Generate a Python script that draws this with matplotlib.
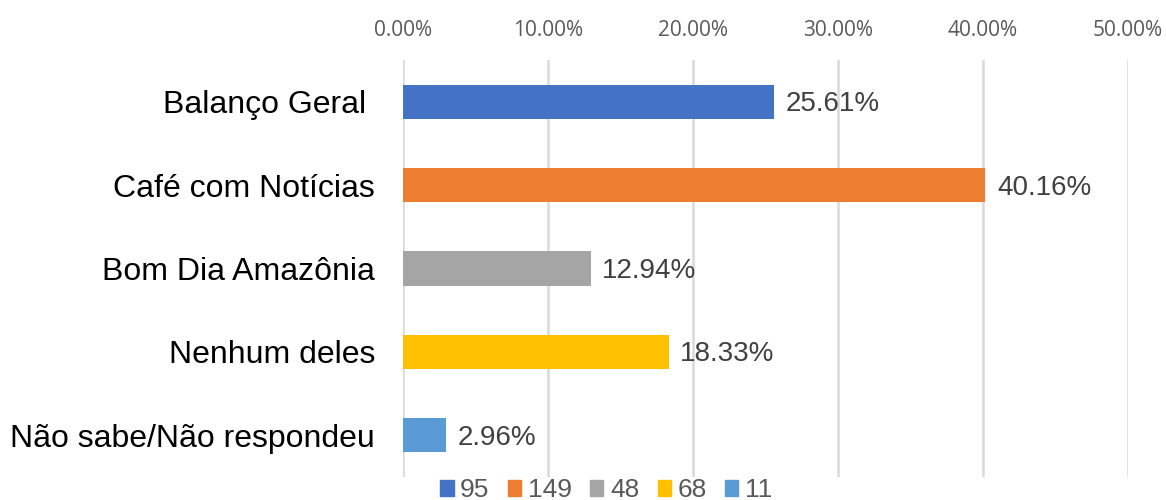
import matplotlib.pyplot as plt
import numpy as np

categorias = ["Balanço Geral ", "Café com Notícias", "Bom Dia Amazônia",
              "Nenhum deles", "Não sabe/Não respondeu"]
percentuais = [25.61, 40.16, 12.94, 18.33, 2.96]
contagens = ["95", "149", "48", "68", "11"]
cores = ["#4472C4", "#ED7D31", "#A5A5A5", "#FFC000", "#5B9BD5"]
ticks = [0, 10, 20, 30, 40, 50]

fig = plt.figure(figsize=(11.66, 5.0), dpi=100)
ax = fig.add_axes([0.3456, 0.046, 0.6218, 0.834])

y = np.arange(len(categorias))
ax.barh(y, percentuais, height=0.41, color=cores, zorder=3)

for yi, v in zip(y, percentuais):
    ax.text(v + 0.8, yi + 0.03, f"{v:.2f}%", va="center", ha="left",
            fontsize=20, color="#404040", family="Liberation Sans")

ax.set_xlim(0, 50)
ax.set_ylim(len(categorias) - 0.5, -0.5)
ax.set_yticks(y)
ax.set_yticklabels(categorias, fontsize=23, family="Liberation Sans", color="black")
ax.set_xticks(ticks)
ax.set_xticklabels([f"{t:.2f}%" for t in ticks], fontsize=15, family="Open Sans",
                   color="#595959")
ax.xaxis.tick_top()
ax.tick_params(axis="both", length=0)
ax.tick_params(axis="x", pad=14)
ax.tick_params(axis="y", pad=20)
ax.grid(axis="x", color="#D9D9D9", linewidth=1.8, zorder=0)
for s in ax.spines.values():
    s.set_visible(False)

handles = [plt.Rectangle((0, 0), 1, 1, color=c) for c in cores]
fig.legend(handles, contagens, loc="center", bbox_to_anchor=(0.52, 0.02),
           ncol=5, frameon=False, handlelength=0.5, handleheight=0.55,
           handletextpad=0.25, columnspacing=0.7, labelcolor="#595959",
           borderpad=0.1, prop={"family": "Liberation Sans", "size": 19})

fig.savefig("out.png", dpi=100)
